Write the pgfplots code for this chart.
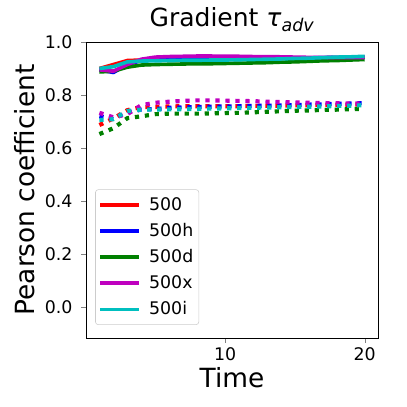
\documentclass[border=0pt]{standalone}
\usepackage{pgfplots}
\pgfplotsset{compat=1.18}
\usepackage{fontspec}
\setmainfont{DejaVu Sans}
\definecolor{mred}{rgb}{1,0,0}
\definecolor{mblue}{rgb}{0,0,1}
\definecolor{mgreen}{rgb}{0,0.5,0}
\definecolor{mmag}{rgb}{0.75,0,0.75}
\definecolor{mcyan}{rgb}{0,0.75,0.75}

% x = 1..20 ; solid lines (legend) and dotted companions
\pgfplotstableread{
x   r     b     g     m     c
1   0.900 0.895 0.887 0.895 0.900
2   0.915 0.885 0.890 0.890 0.907
3   0.930 0.915 0.905 0.915 0.925
4   0.932 0.930 0.913 0.935 0.928
5   0.933 0.935 0.915 0.943 0.929
6   0.933 0.937 0.916 0.945 0.930
7   0.934 0.937 0.917 0.946 0.931
8   0.934 0.937 0.918 0.947 0.931
9   0.934 0.937 0.918 0.947 0.932
10  0.935 0.937 0.919 0.946 0.932
11  0.935 0.937 0.920 0.946 0.933
12  0.936 0.938 0.921 0.945 0.934
13  0.937 0.938 0.922 0.945 0.935
14  0.938 0.939 0.924 0.944 0.936
15  0.939 0.940 0.925 0.943 0.938
16  0.940 0.940 0.927 0.942 0.939
17  0.940 0.941 0.929 0.942 0.941
18  0.941 0.942 0.930 0.941 0.943
19  0.942 0.942 0.932 0.941 0.944
20  0.943 0.943 0.934 0.941 0.946
}\solid
\pgfplotstableread{
x   r     b     g     m     c
1   0.687 0.720 0.653 0.733 0.706
2   0.712 0.710 0.675 0.716 0.709
3   0.743 0.735 0.713 0.728 0.740
4   0.755 0.745 0.720 0.762 0.745
5   0.755 0.747 0.728 0.771 0.745
6   0.757 0.752 0.730 0.775 0.746
7   0.758 0.754 0.730 0.778 0.747
8   0.758 0.755 0.730 0.780 0.748
9   0.758 0.756 0.731 0.780 0.749
10  0.758 0.757 0.732 0.779 0.750
11  0.758 0.758 0.733 0.778 0.751
12  0.759 0.759 0.735 0.777 0.752
13  0.760 0.760 0.737 0.775 0.753
14  0.760 0.761 0.739 0.774 0.754
15  0.761 0.762 0.741 0.772 0.755
16  0.762 0.764 0.742 0.771 0.756
17  0.762 0.765 0.744 0.770 0.757
18  0.763 0.767 0.745 0.769 0.759
19  0.764 0.768 0.747 0.768 0.760
20  0.765 0.770 0.748 0.768 0.762
}\dotted

\begin{document}
\begin{tikzpicture}
\begin{axis}[
  scale only axis, width=210pt, height=213pt,
  xmin=0.05, xmax=20.95, ymin=-0.115, ymax=1.0,
  xtick={10,20}, ytick={0,0.2,...,1.0},
  yticklabel style={/pgf/number format/fixed, /pgf/number format/fixed zerofill, /pgf/number format/precision=1, xshift=-2.8pt},
  /pgf/number format/assume math mode=true,
  tick align=outside, major tick length=3.5pt,
  xtick pos=bottom, ytick pos=left,
  tick label style={font=\fontsize{12.5}{14}\selectfont},
  title={Gradient {\itshape τ}\textsubscript{\itshape adv}},
  title style={font=\fontsize{18}{21}\selectfont, at={(axis description cs:0.5,1)}, anchor=base, yshift=5pt},
  xlabel={Time},
  xlabel style={font=\fontsize{19}{22}\selectfont, at={(axis description cs:0.5,0)}, anchor=center, yshift=-28.8pt},
  ylabel={Pearson coefficient},
  ylabel style={font=\fontsize{19}{22}\selectfont, at={(axis description cs:0,0.5)}, anchor=center, yshift=43.9pt},
  legend style={at={(axis description cs:0.031,0.044)}, anchor=south west,
    draw=black!20, rounded corners=2pt, fill=white, fill opacity=0.8, text opacity=1,
    font=\fontsize{12.5}{14}\selectfont, row sep=3.9pt, inner xsep=2pt, inner ysep=3.5pt},
  legend cell align=left,
  legend image code/.code={\draw[#1, line width=2.6pt] (0pt,0pt) -- (28pt,0pt); \path (32pt,0pt);},
  every axis plot/.append style={line join=round},
]
\addplot[mred, line width=2.6pt] table[x=x, y=r] {\solid};
\addplot[mblue, line width=2.6pt] table[x=x, y=b] {\solid};
\addplot[mgreen, line width=2.6pt] table[x=x, y=g] {\solid};
\addplot[mmag, line width=2.6pt] table[x=x, y=m] {\solid};
\addplot[mcyan, line width=2.6pt] table[x=x, y=c] {\solid};
\legend{500,500h,500d,500x,500i}
\addplot[mred, line width=3pt, dash pattern=on 3pt off 4.2pt, forget plot] table[x=x, y=r] {\dotted};
\addplot[mblue, line width=3pt, dash pattern=on 3pt off 4.2pt, forget plot] table[x=x, y=b] {\dotted};
\addplot[mgreen, line width=3pt, dash pattern=on 3pt off 4.2pt, forget plot] table[x=x, y=g] {\dotted};
\addplot[mmag, line width=3pt, dash pattern=on 3pt off 4.2pt, forget plot] table[x=x, y=m] {\dotted};
\addplot[mcyan, line width=3pt, dash pattern=on 3pt off 4.2pt, forget plot] table[x=x, y=c] {\dotted};
\end{axis}
\path[use as bounding box] (-62pt,-49.7pt) rectangle (230.9pt,243.2pt);
\end{tikzpicture}
\end{document}
